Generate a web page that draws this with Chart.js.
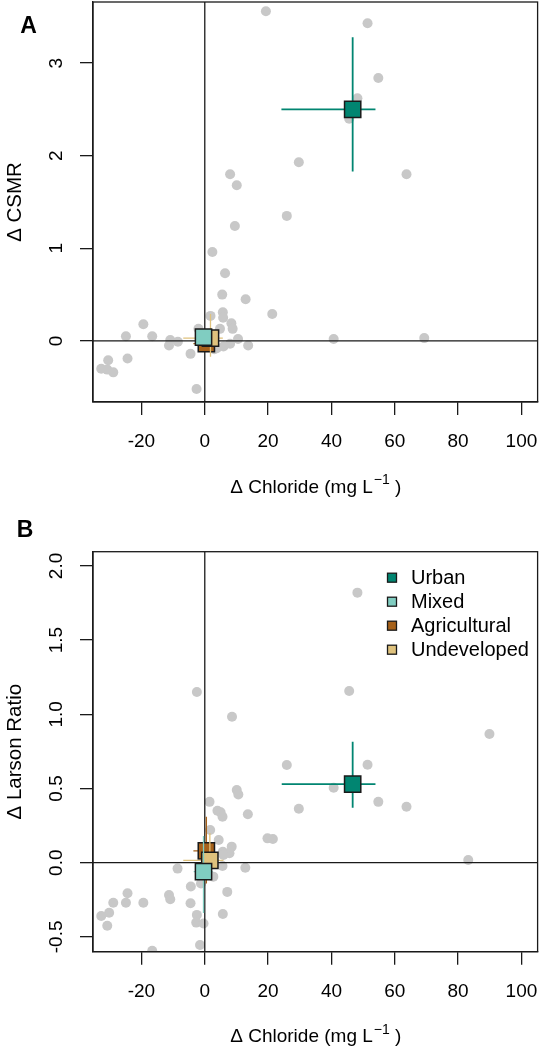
<!DOCTYPE html>
<html><head><meta charset="utf-8">
<script src="https://cdn.jsdelivr.net/npm/chart.js@4.4.0/dist/chart.umd.min.js"></script>
<style>
html,body{margin:0;padding:0;background:#fff;}
#wrap{position:relative;width:539px;height:1050px;background:#fff;}
canvas{position:absolute;left:0;}
#cA{top:0}
#cB{top:520px}
</style></head><body>
<div id="wrap"><canvas id="cA" width="539" height="520"></canvas><canvas id="cB" width="539" height="530"></canvas></div>
<script>
// ---------- data ----------
const xTicks = [-20, 0, 20, 40, 60, 80, 100];
const xTickLabels = ['-20', '0', '20', '40', '60', '80', '100'];
const yTicksA = [0, 1, 2, 3];
const yTickLabelsA = ['0', '1', '2', '3'];
const yTicksB = [-0.5, 0.0, 0.5, 1.0, 1.5, 2.0];
const yTickLabelsB = ['-0.5', '0.0', '0.5', '1.0', '1.5', '2.0'];
const groups = ['Urban', 'Mixed', 'Agricultural', 'Undeveloped'];
const groupColors = ['#018571', '#80cdc1', '#a6611a', '#dfc27d'];

// Panel A: site changes
const siteChlorideA = [19.3, 8.0, 10.1, 9.5, 2.4, 51.4, 54.8, 48.2, 45.6, 29.7, 63.7, 25.9, 6.4, 5.5, 12.9, 21.3, 1.8, 5.7, 5.8, 8.4, 8.8, 4.8, 10.5, 13.7, 8.0, 5.9, 3.8, -2.0, -4.5, -2.6, -10.9, -8.5, -11.3, -16.6, -19.4, -24.9, -24.4, -30.5, -32.7, -30.8, -28.9, 40.7, 69.3, 3.0];
const siteCsmr = [3.56, 1.80, 1.68, 1.24, 0.96, 3.43, 2.84, 2.62, 2.40, 1.93, 1.80, 1.35, 0.73, 0.50, 0.45, 0.29, 0.27, 0.31, 0.25, 0.19, 0.13, 0.13, 0.02, -0.05, -0.03, -0.06, -0.08, 0.13, -0.14, -0.52, 0.01, -0.01, -0.05, 0.05, 0.18, 0.05, -0.19, -0.21, -0.30, -0.31, -0.34, 0.02, 0.03, -0.09];
// Panel A: group means and error ranges (order: Urban, Mixed, Agricultural, Undeveloped)
const meanChlorideA = [46.7, -0.4, 0.5, 1.8];
const chlorideLowA = [24.2, -3.0, -3.6, -6.8];
const chlorideHighA = [53.9, 2.0, 3.3, 5.7];
const meanCsmr = [2.50, 0.04, -0.03, 0.03];
const csmrLow = [1.83, -0.05, -0.10, -0.17];
const csmrHigh = [3.28, 0.12, 0.05, 0.29];

// Panel B: site changes
const siteChlorideB = [48.2, 45.6, 89.9, 25.9, 51.4, 40.7, 29.7, 54.8, 63.7, 21.5, 19.8, 83.2, -2.5, 8.6, 10.1, 10.6, 1.5, 4.0, 5.0, 5.6, 13.6, 1.7, 4.4, 8.5, 5.7, 7.8, 5.9, 5.6, 12.8, -8.6, 2.7, -4.4, -1.2, 7.1, -11.3, -10.9, -4.5, 5.7, -2.5, -2.7, -0.4, -1.5, -16.6, -19.4, -24.4, -24.9, -28.9, -30.2, -32.7, -30.8];
const siteLarson = [1.82, 1.157, 0.867, 0.658, 0.66, 0.505, 0.364, 0.41, 0.377, 0.16, 0.164, 0.018, 1.15, 0.984, 0.49, 0.46, 0.41, 0.35, 0.34, 0.31, 0.326, 0.22, 0.153, 0.108, 0.074, 0.063, 0.052, -0.022, -0.034, -0.04, -0.094, -0.16, -0.14, -0.197, -0.218, -0.247, -0.274, -0.346, -0.352, -0.404, -0.41, -0.555, -0.593, -0.27, -0.206, -0.27, -0.27, -0.337, -0.359, -0.425];
const meanChlorideB = [46.7, -0.4, 0.5, 1.6];
const chlorideLowB = [24.3, -3.5, -3.6, -6.8];
const chlorideHighB = [53.9, 2.5, 2.6, 5.9];
const meanLarson = [0.53, -0.06, 0.08, 0.015];
const larsonLow = [0.37, -0.34, -0.14, -0.08];
const larsonHigh = [0.815, 0.18, 0.31, 0.20];

// ---------- drawing helpers ----------
const FONT = "'Liberation Sans', Arial, Helvetica, sans-serif";
const INK = '#1a1a1a';

function panelPlugin(o) {
  return {
    id: 'panel' + o.letter,
    afterDatasetDraw(chart, args) {
      if (chart.data.datasets[args.index].label !== 'sites') return;
      const { ctx, chartArea: a, scales: { x, y } } = chart;
      ctx.save();
      ctx.strokeStyle = INK; ctx.lineWidth = 1.3;
      const x0 = x.getPixelForValue(0), y0 = y.getPixelForValue(0);
      ctx.beginPath();
      ctx.moveTo(x0, a.top); ctx.lineTo(x0, a.bottom);
      ctx.moveTo(a.left, y0); ctx.lineTo(a.right, y0);
      ctx.stroke();
      ctx.restore();
    },
    afterDraw(chart) {
      const { ctx, chartArea: a, scales: { x, y } } = chart;
      ctx.save();
      // box
      ctx.strokeStyle = INK; ctx.lineWidth = 1.3;
      ctx.strokeRect(a.left, a.top, a.right - a.left, a.bottom - a.top);
      ctx.fillStyle = '#000';
      // x tick labels
      ctx.font = '19px ' + FONT;
      ctx.textAlign = 'center'; ctx.textBaseline = 'middle';
      xTicks.forEach((v, i) => ctx.fillText(xTickLabels[i], x.getPixelForValue(v), a.bottom + 40));
      // y tick labels (rotated)
      o.yTicks.forEach((v, i) => {
        ctx.save();
        ctx.translate(57, y.getPixelForValue(v));
        ctx.rotate(-Math.PI / 2);
        ctx.fillText(o.yTickLabels[i], 0, 0);
        ctx.restore();
      });
      // x title with superscript
      const cx = (a.left + a.right) / 2, ty = a.bottom + 85.5;
      const p1 = '\u0394 Chloride (mg L', sup = '\u22121', p3 = ' )';
      ctx.font = '19px ' + FONT;
      const w1 = ctx.measureText(p1).width, w3 = ctx.measureText(p3).width;
      ctx.font = '14px ' + FONT;
      const w2 = ctx.measureText(sup).width;
      let sx = cx - (w1 + w2 + w3) / 2;
      ctx.textAlign = 'left';
      ctx.font = '19px ' + FONT; ctx.fillText(p1, sx, ty); sx += w1;
      ctx.font = '14px ' + FONT; ctx.fillText(sup, sx + 1, ty - 7); sx += w2 + 1;
      ctx.font = '19px ' + FONT; ctx.fillText(p3, sx, ty);
      // y title
      ctx.save();
      ctx.translate(15.5, (a.top + a.bottom) / 2);
      ctx.rotate(-Math.PI / 2);
      ctx.textAlign = 'center';
      ctx.font = '20.5px ' + FONT;
      ctx.fillText(o.yTitle, 0, 0);
      ctx.restore();
      // panel letter
      ctx.font = 'bold 23px ' + FONT;
      ctx.textAlign = 'center';
      ctx.fillText(o.letter, o.letterX, o.letterY);
      // legend
      if (o.legend) {
        groups.forEach((g, i) => {
          const ly = o.legendY + i * 24;
          ctx.fillStyle = groupColors[i];
          ctx.fillRect(o.legendX - 4.5, ly - 4.5, 9, 9);
          ctx.strokeStyle = INK; ctx.lineWidth = 1.3;
          ctx.strokeRect(o.legendX - 4.5, ly - 4.5, 9, 9);
          ctx.fillStyle = '#000';
          ctx.font = '20px ' + FONT;
          ctx.textAlign = 'left';
          ctx.fillText(g, o.legendX + 19, ly + 1);
        });
      }
      ctx.restore();
    }
  };
}

function buildChart(canvasId, o) {
  const datasets = [{
    label: 'sites', type: 'scatter',
    data: o.sx.map((v, i) => ({ x: v, y: o.sy[i] })),
    backgroundColor: '#c8c8c8', borderWidth: 0, pointRadius: 5, order: 100
  }];
  let ord = 50;
  [0, 2, 3, 1].forEach(g => {
    const lw = g === 0 ? 1.8 : 1.3;
    datasets.push({ label: 'xerr', type: 'scatter', showLine: true,
      data: [{ x: o.xlo[g], y: o.my[g] }, { x: o.xhi[g], y: o.my[g] }],
      borderColor: groupColors[g], borderWidth: lw, pointRadius: 0, order: ord-- });
    datasets.push({ label: 'yerr', type: 'scatter', showLine: true,
      data: [{ x: o.mx[g], y: o.ylo[g] }, { x: o.mx[g], y: o.yhi[g] }],
      borderColor: groupColors[g], borderWidth: lw, pointRadius: 0, order: ord-- });
    datasets.push({ label: groups[g], type: 'scatter',
      data: [{ x: o.mx[g], y: o.my[g] }],
      pointStyle: 'rect', pointRadius: 11.5, backgroundColor: groupColors[g],
      borderColor: INK, borderWidth: 1.5, order: ord-- });
  });
  const tickGrid = { drawOnChartArea: false, drawTicks: true, tickLength: 13, color: INK, lineWidth: 1.3 };
  return new Chart(document.getElementById(canvasId), {
    type: 'scatter',
    data: { datasets },
    options: {
      responsive: false, animation: false, devicePixelRatio: 1,
      layout: { autoPadding: false, padding: { top: o.padTop, right: 1.4, bottom: 0, left: 0 } },
      plugins: { legend: { display: false }, tooltip: { enabled: false } },
      scales: {
        x: { type: 'linear', min: -35.3, max: 105.1,
          afterBuildTicks: s => { s.ticks = xTicks.map(v => ({ value: v })); },
          ticks: { display: false }, grid: tickGrid,
          border: { display: true, color: INK, width: 1.3 },
          afterFit: s => { s.height = o.xAxisH; } },
        y: { type: 'linear', min: o.ymin, max: o.ymax,
          afterBuildTicks: s => { s.ticks = o.yTicks.map(v => ({ value: v })); },
          ticks: { display: false }, grid: tickGrid,
          border: { display: true, color: INK, width: 1.3 },
          afterFit: s => { s.width = 93; } }
      }
    },
    plugins: [panelPlugin(o)]
  });
}

buildChart('cA', {
  letter: 'A', letterX: 28.5, letterY: 27, padTop: 2, xAxisH: 118,
  ymin: -0.66, ymax: 3.66, yTicks: yTicksA, yTickLabels: yTickLabelsA, yTitle: '\u0394 CSMR',
  sx: siteChlorideA, sy: siteCsmr, mx: meanChlorideA, my: meanCsmr,
  xlo: chlorideLowA, xhi: chlorideHighA, ylo: csmrLow, yhi: csmrHigh, legend: false
});
buildChart('cB', {
  letter: 'B', letterX: 25, letterY: 11, padTop: 31.7, xAxisH: 98.3,
  ymin: -0.6, ymax: 2.096, yTicks: yTicksB, yTickLabels: yTickLabelsB, yTitle: '\u0394 Larson Ratio',
  sx: siteChlorideB, sy: siteLarson, mx: meanChlorideB, my: meanLarson,
  xlo: chlorideLowB, xhi: chlorideHighB, ylo: larsonLow, yhi: larsonHigh,
  legend: true, legendX: 392, legendY: 57.7
});
</script>
</body></html>
